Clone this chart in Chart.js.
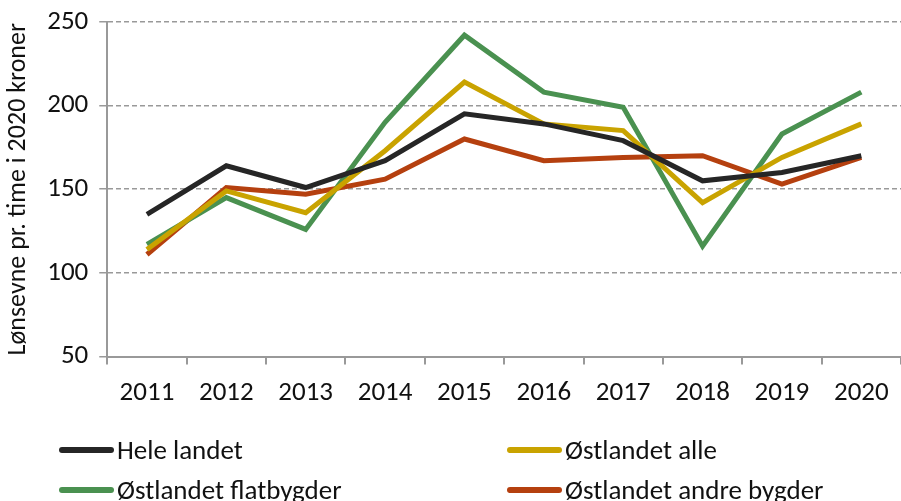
<!DOCTYPE html>
<html>
<head>
<meta charset="utf-8">
<script src="https://cdn.jsdelivr.net/npm/chart.js@4/dist/chart.umd.min.js"></script>
<style>
  body { margin: 0; background: #fff; overflow: hidden; }
  #wrap { position: relative; width: 901px; height: 501px; }
  #legend { position: absolute; left: 0; top: 0; width: 901px; height: 501px; pointer-events: none;
    font-family: Carlito, Lato, "Liberation Sans", sans-serif; font-size: 27px; color: #111; }
  .item { position: absolute; display: flex; align-items: center; height: 32px; line-height: 32px; }
  .swatch { width: 55px; height: 6px; border-radius: 3px; margin-right: 3px; }
</style>
</head>
<body>
<div id="wrap">
  <canvas id="myChart" width="901" height="501"></canvas>
  <div id="legend"></div>
</div>
<script>
var years = ["2011", "2012", "2013", "2014", "2015", "2016", "2017", "2018", "2019", "2020"];
var seriesNames = ["Hele landet", "Østlandet alle", "Østlandet flatbygder", "Østlandet andre bygder"];
var heleLandet = [135, 164, 151, 167, 195, 189, 179, 155, 160, 170];
var ostAlle = [114, 149, 136, 173, 214, 189, 185, 142, 169, 189];
var ostFlat = [117, 145, 126, 190, 242, 208, 199, 116, 183, 208];
var ostAndre = [111, 151, 147, 156, 180, 167, 169, 170, 153, 169];
var colors = ["#262626", "#C9A300", "#4A9150", "#B5400F"];

var seriesData = [heleLandet, ostAlle, ostFlat, ostAndre];
var font = "Carlito, Lato, 'Liberation Sans', sans-serif";

var ctx = document.getElementById("myChart").getContext("2d");
var myChart = new Chart(ctx, {
  type: "line",
  data: {
    labels: years,
    datasets: seriesNames.map(function (name, i) {
      return {
        label: name,
        data: seriesData[i],
        borderColor: colors[i],
        backgroundColor: colors[i],
        borderWidth: 5,
        pointRadius: 0,
        tension: 0,
        borderJoinStyle: "miter",
      };
    }),
  },
  options: {
    responsive: false,
    animation: false,
    layout: { padding: { left: 1, right: 0, top: 0, bottom: 80 } },
    plugins: {
      legend: { display: false },
      tooltip: { enabled: false },
    },
    scales: {
      x: {
        offset: true,
        grid: { offset: true, drawOnChartArea: false, color: "#999", tickLength: 8, lineWidth: 2 },
        border: { color: "#999", width: 2 },
        ticks: { color: "#111", font: { family: font, size: 27 }, padding: 12, maxRotation: 0 },
      },
      y: {
        min: 50,
        max: 250,
        ticks: { stepSize: 50, color: "#111", font: { family: font, size: 27, lineHeight: 0.8 }, padding: 11 },
        grid: { color: "#999", lineWidth: 1.5, tickLength: 8, tickBorderDash: [] },
        border: { color: "#999", width: 2, dash: [5, 3] },
        title: {
          display: true,
          text: "Lønsevne pr. time i 2020 kroner",
          color: "#111",
          font: { family: font, size: 26 },
          padding: 2,
        },
      },
    },
  },
});

// legend in two columns like the original
var legendPos = [[59, 434], [507, 434], [59, 474], [507, 474]];
var legend = document.getElementById("legend");
seriesNames.forEach(function (name, i) {
  var el = document.createElement("div");
  el.className = "item";
  el.style.left = legendPos[i][0] + "px";
  el.style.top = legendPos[i][1] + "px";
  el.innerHTML = '<span class="swatch" style="background:' + colors[i] + '"></span><span>' + name + "</span>";
  legend.appendChild(el);
});
</script>
</body>
</html>
